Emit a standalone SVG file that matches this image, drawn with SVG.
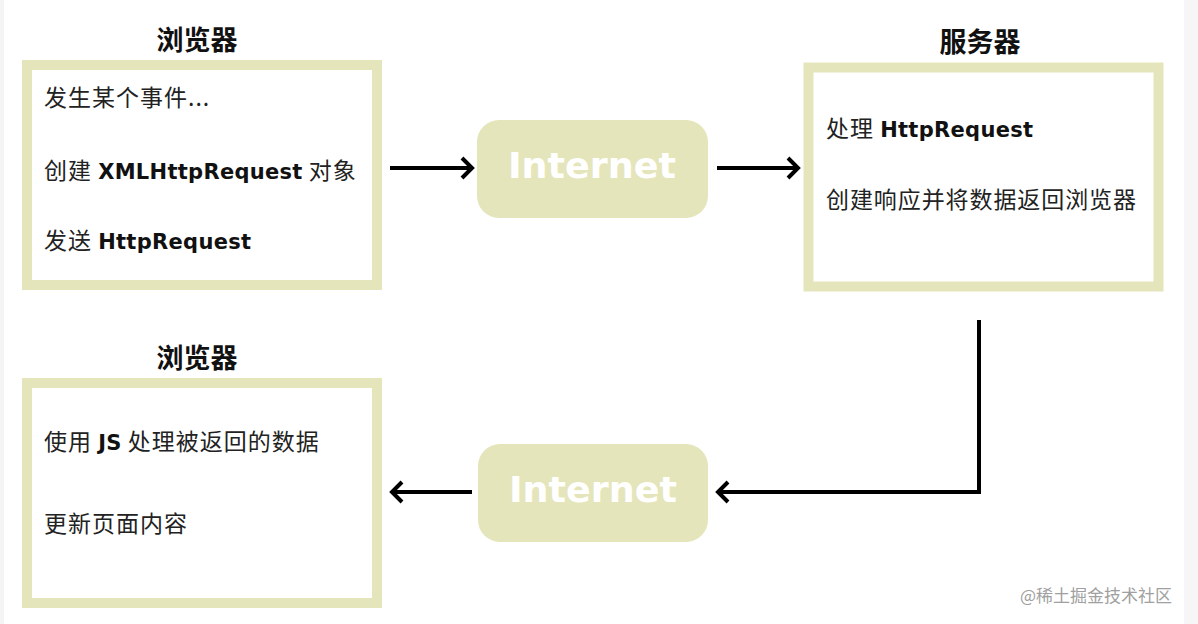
<svg xmlns="http://www.w3.org/2000/svg" width="1198" height="624" viewBox="0 0 1198 624">
<defs>
<style>
.box{fill:#ffffff;stroke:#e5e5bb;stroke-width:10}
.net{fill:#e5e5bb}
.title{font-family:"Noto Sans CJK SC",sans-serif;font-weight:bold;font-size:27px;fill:#111;text-anchor:middle}
.t{font-family:"Noto Sans CJK SC",sans-serif;font-size:23px;letter-spacing:1px;fill:#222}
.b{font-family:"DejaVu Sans","Noto Sans CJK SC",sans-serif;font-weight:bold;font-size:21px;letter-spacing:0.3px;fill:#111}
.nt{font-family:"DejaVu Sans",sans-serif;font-weight:bold;font-size:36px;fill:#ffffff;text-anchor:middle}
.c{fill:none;stroke:#000;stroke-width:4}
.wm{font-family:"Noto Sans CJK SC",sans-serif;font-size:17px;fill:#a0a0a0}
</style>
<marker id="ah" markerUnits="userSpaceOnUse" markerWidth="16" markerHeight="26" viewBox="-2 -13 16 26" refX="10" refY="0" orient="auto">
<path d="M0,-10 L10,0 L0,10" fill="none" stroke="#000" stroke-width="4"/>
</marker>
</defs>
<rect x="0" y="0" width="1198" height="624" fill="#ffffff"/>
<rect x="0" y="0" width="4" height="624" fill="#f4f4f4"/>
<rect x="1184" y="0" width="14" height="624" fill="#f6f6f6"/>

<g id="browser1">
<text class="title" x="197" y="50">浏览器</text>
<rect class="box" x="27" y="65" width="350" height="220"/>
<text class="t" x="44" y="106">发生某个事件...</text>
<text class="t" x="44" y="179">创建 <tspan class="b">XMLHttpRequest</tspan> 对象</text>
<text class="t" x="44" y="249">发送 <tspan class="b">HttpRequest</tspan></text>
</g>

<g id="internet1">
<rect class="net" x="477" y="120" width="231" height="98" rx="22"/>
<text class="nt" x="592" y="178" textLength="168" lengthAdjust="spacingAndGlyphs">Internet</text>
</g>

<g id="server">
<text class="title" x="980" y="52">服务器</text>
<rect class="box" x="808.5" y="67.5" width="350" height="219"/>
<text class="t" x="826" y="137">处理 <tspan class="b">HttpRequest</tspan></text>
<text class="t" x="826" y="208" textLength="311">创建响应并将数据返回浏览器</text>
</g>

<g id="browser2">
<text class="title" x="197" y="368">浏览器</text>
<rect class="box" x="27" y="383" width="350" height="220"/>
<text class="t" x="44" y="450">使用 <tspan class="b">JS</tspan> 处理被返回的数据</text>
<text class="t" x="44" y="532">更新页面内容</text>
</g>

<g id="internet2">
<rect class="net" x="478" y="444" width="230" height="98" rx="22"/>
<text class="nt" x="593" y="502" textLength="168" lengthAdjust="spacingAndGlyphs">Internet</text>
</g>

<g id="connectors">
<line class="c" x1="390" y1="168" x2="472" y2="168" marker-end="url(#ah)"/>
<line class="c" x1="717" y1="168" x2="798" y2="168" marker-end="url(#ah)"/>
<polyline class="c" points="979,320 979,492 718,492" marker-end="url(#ah)"/>
<line class="c" x1="472" y1="492" x2="392" y2="492" marker-end="url(#ah)"/>
</g>

<text class="wm" x="1020" y="602">@稀土掘金技术社区</text>
</svg>
